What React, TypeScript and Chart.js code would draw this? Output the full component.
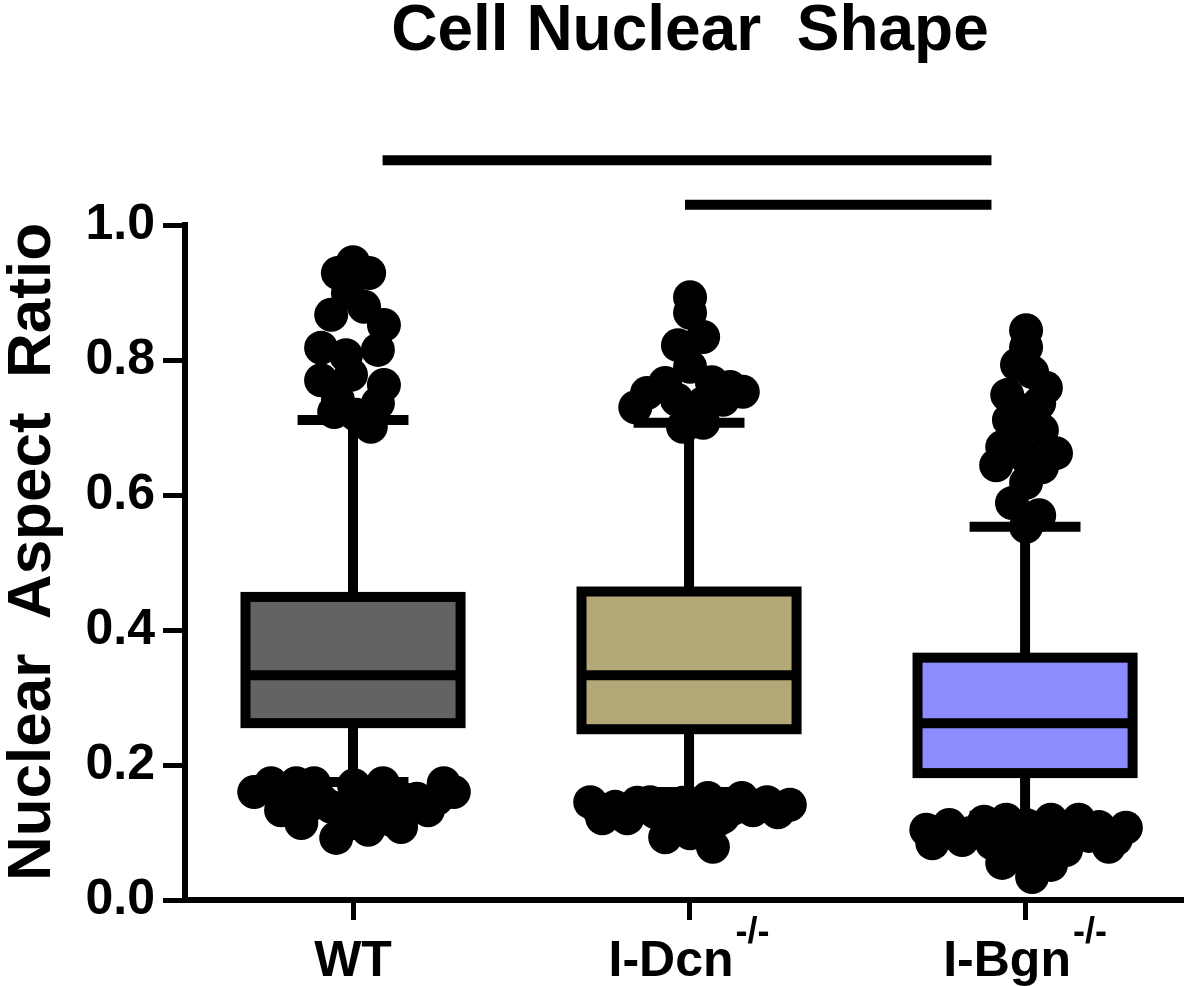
import React, { useEffect, useRef } from 'react';
import { Chart, registerables } from 'chart.js';

Chart.register(...registerables);

// ---------- data ----------
const categories = ['WT', 'I-Dcn', 'I-Bgn'];
const categorySuperscripts = ['', '-/-', '-/-'];
const boxFills = ['#636363', '#b4a879', '#8c8cff'];

const q1Values = [0.262, 0.253, 0.188];
const medianValues = [0.333, 0.333, 0.262];
const q3Values = [0.449, 0.457, 0.359];
const whiskerLowValues = [0.175, 0.16, 0.125];
const whiskerHighValues = [0.711, 0.707, 0.553];

const yTickValues = [0, 0.2, 0.4, 0.6, 0.8, 1.0];

// outliers: value and horizontal jitter (in category units) per group
const wtOutlierValues = [
  0.945, 0.929, 0.929, 0.899, 0.879, 0.867, 0.852, 0.818, 0.815, 0.807, 0.770, 0.763, 0.778, 0.741, 0.736, 0.723, 0.701, 0.719,
  0.160, 0.173, 0.173, 0.173, 0.133, 0.114, 0.092, 0.170, 0.173, 0.104, 0.108, 0.148, 0.133, 0.173, 0.160, 0.138, 0.129, 0.138, 0.148, 0.148, 0.111, 0.119,
  0.155, 0.140, 0.125, 0.150, 0.125, 0.150, 0.150, 0.150,
];
const wtOutlierJitter = [
  0, -0.045, 0.048, -0.015, 0.033, -0.065, 0.092, -0.095, 0.074, -0.021, -0.095, 0.092, -0.006, -0.045, 0.074, -0.056, 0.053, 0.009,
  -0.294, -0.244, -0.169, -0.116, -0.214, -0.154, -0.05, 0.003, 0.089, 0.045, 0.143, 0.163, 0.223, 0.27, 0.3, -0.065, 0.003, 0.104, -0.095, 0.053, -0.021, 0.113,
  -0.19, -0.13, -0.03, 0.02, 0.07, 0.12, 0.19, 0.25,
];

const dcnOutlierValues = [
  0.893, 0.870, 0.834, 0.822, 0.790, 0.766, 0.767, 0.753, 0.760, 0.751, 0.730, 0.741, 0.736, 0.701, 0.707, 0.741,
  0.145, 0.121, 0.138, 0.121, 0.144, 0.145, 0.138, 0.144, 0.151, 0.123, 0.151, 0.133, 0.145, 0.130, 0.141, 0.093, 0.099, 0.079, 0.123, 0.119,
  0.135, 0.130, 0.130, 0.120, 0.130, 0.135, 0.140, 0.120,
];
const dcnOutlierJitter = [
  0.003, 0.003, 0.042, -0.033, 0.003, -0.071, 0.068, 0.16, 0.122, -0.125, -0.16, -0.036, 0.042, -0.018, 0.042, 0.101,
  -0.294, -0.258, -0.22, -0.184, -0.154, -0.116, -0.065, -0.018, 0.056, 0.101, 0.157, 0.19, 0.232, 0.264, 0.3, -0.071, 0.003, 0.071, 0.024, -0.036,
  -0.27, -0.2, -0.1, -0.04, 0.04, 0.13, 0.21, 0.09,
];

const bgnOutlierValues = [
  0.844, 0.819, 0.793, 0.782, 0.759, 0.748, 0.736, 0.711, 0.696, 0.671, 0.662, 0.644, 0.656, 0.641, 0.618, 0.588, 0.570, 0.553, 0.692, 0.726,
  0.104, 0.084, 0.111, 0.089, 0.116, 0.119, 0.111, 0.119, 0.119, 0.108, 0.079, 0.107, 0.055, 0.034, 0.052, 0.074, 0.084, 0.084, 0.099, 0.099,
  0.100, 0.100, 0.095, 0.090, 0.100, 0.095, 0.090, 0.075, 0.065,
];
const bgnOutlierJitter = [
  0.003, 0.003, -0.024, 0.021, 0.062, -0.053, 0.042, -0.048, 0.05, -0.068, 0.092, -0.086, 0.003, 0.05, 0.003, -0.039, 0.042, 0.003, -0.018, 0.012,
  -0.294, -0.276, -0.226, -0.187, -0.122, -0.056, 0.003, 0.077, 0.16, 0.22, 0.249, 0.3, -0.068, 0.021, 0.077, 0.122, -0.098, -0.018, 0.131, -0.166,
  -0.25, -0.15, -0.09, 0.05, 0.1, 0.19, 0.27, 0.04, -0.04,
];

// significance bars (x in category units, level in y units)
const sigStarts = [0.088, 0.988];
const sigEnds = [1.9, 1.9];
const sigLevels = [1.096, 1.03];

const chartTitle = 'Cell Nuclear  Shape';
const yAxisTitle = 'Nuclear  Aspect  Ratio';

// ---------- styles ----------
const FONT = '"Liberation Sans", Arial, Helvetica, sans-serif';
const BOX_WIDTH = 0.64;
const CAP_WIDTH = 0.33;
const LINE_W = 10;

const outlierGroups = [
  { values: wtOutlierValues, jitter: wtOutlierJitter },
  { values: dcnOutlierValues, jitter: dcnOutlierJitter },
  { values: bgnOutlierValues, jitter: bgnOutlierJitter },
];

const boxPlugin = {
  id: 'boxes',
  beforeDatasetsDraw(chart: any) {
    const { ctx } = chart;
    const xs = chart.scales.x;
    const ys = chart.scales.y;
    ctx.save();
    ctx.strokeStyle = '#000';
    ctx.lineCap = 'butt';
    ctx.lineJoin = 'miter';
    categories.forEach((_, i) => {
      const cx = xs.getPixelForValue(i);
      const left = xs.getPixelForValue(i - BOX_WIDTH / 2);
      const right = xs.getPixelForValue(i + BOX_WIDTH / 2);
      const capL = xs.getPixelForValue(i - CAP_WIDTH / 2);
      const capR = xs.getPixelForValue(i + CAP_WIDTH / 2);
      const top = ys.getPixelForValue(q3Values[i]);
      const bot = ys.getPixelForValue(q1Values[i]);
      const med = ys.getPixelForValue(medianValues[i]);
      const wHi = ys.getPixelForValue(whiskerHighValues[i]);
      const wLo = ys.getPixelForValue(whiskerLowValues[i]);
      ctx.lineWidth = LINE_W;
      ctx.beginPath();
      ctx.moveTo(cx, top);
      ctx.lineTo(cx, wHi);
      ctx.moveTo(cx, bot);
      ctx.lineTo(cx, wLo);
      ctx.moveTo(capL, wHi);
      ctx.lineTo(capR, wHi);
      ctx.moveTo(capL, wLo);
      ctx.lineTo(capR, wLo);
      ctx.stroke();
      ctx.fillStyle = boxFills[i];
      ctx.fillRect(left, top, right - left, bot - top);
      ctx.strokeRect(left, top, right - left, bot - top);
      ctx.beginPath();
      ctx.moveTo(left, med);
      ctx.lineTo(right, med);
      ctx.stroke();
    });
    ctx.restore();
  },
  afterDraw(chart: any) {
    const { ctx } = chart;
    const xs = chart.scales.x;
    const ys = chart.scales.y;
    ctx.save();
    ctx.fillStyle = '#000';
    ctx.strokeStyle = '#000';
    // title
    ctx.font = `bold 64px ${FONT}`;
    ctx.textAlign = 'center';
    ctx.textBaseline = 'alphabetic';
    ctx.fillText(chartTitle, 690, 50);
    // y axis title
    ctx.save();
    ctx.translate(50, 552);
    ctx.rotate(-Math.PI / 2);
    ctx.font = `bold 62px ${FONT}`;
    ctx.textAlign = 'center';
    ctx.fillText(yAxisTitle, 0, 0);
    ctx.restore();
    // x labels with superscripts
    ctx.textAlign = 'left';
    categories.forEach((label, i) => {
      const cx = xs.getPixelForValue(i);
      ctx.font = `bold 50px ${FONT}`;
      const w1 = ctx.measureText(label).width;
      const sup = categorySuperscripts[i];
      let w2 = 0;
      if (sup) {
        ctx.font = `bold 36px ${FONT}`;
        w2 = ctx.measureText(sup).width + 2;
      }
      const start = cx - (w1 + w2) / 2;
      ctx.font = `bold 50px ${FONT}`;
      ctx.fillText(label, start, 976);
      if (sup) {
        ctx.font = `bold 36px ${FONT}`;
        ctx.fillText(sup, start + w1 + 2, 943);
      }
    });
    // significance bars
    ctx.lineWidth = LINE_W;
    ctx.lineCap = 'butt';
    sigLevels.forEach((lvl, k) => {
      const y = ys.getPixelForValue(lvl);
      ctx.beginPath();
      ctx.moveTo(xs.getPixelForValue(sigStarts[k]), y);
      ctx.lineTo(xs.getPixelForValue(sigEnds[k]), y);
      ctx.stroke();
    });
    ctx.restore();
  },
};

export default function App() {
  const canvasRef = useRef<HTMLCanvasElement | null>(null);

  useEffect(() => {
    if (!canvasRef.current) return;
    const points: { x: number; y: number }[] = [];
    outlierGroups.forEach((g, i) => {
      g.values.forEach((v, k) => points.push({ x: i + g.jitter[k], y: v }));
    });

    const chart = new Chart(canvasRef.current, {
      type: 'scatter',
      data: {
        datasets: [
          {
            label: 'Outliers',
            data: points,
            backgroundColor: '#000',
            borderWidth: 0,
            pointRadius: 17,
            pointHoverRadius: 17,
          },
        ],
      },
      options: {
        responsive: false,
        animation: false,
        events: [],
        layout: { padding: { top: 225, right: 15, bottom: 0, left: 0 } },
        plugins: {
          legend: { display: false },
          tooltip: { enabled: false },
          title: { display: false },
        },
        scales: {
          x: {
            type: 'linear',
            min: -0.5,
            max: 2.47,
            afterBuildTicks: (s: any) => {
              s.ticks = categories.map((_, i) => ({ value: i }));
            },
            afterFit: (s: any) => {
              s.height = 86;
            },
            ticks: { callback: () => '', padding: 0 },
            grid: {
              drawOnChartArea: false,
              drawTicks: true,
              tickLength: 20,
              tickWidth: 5,
              tickColor: '#000',
            },
            border: { display: true, color: '#000', width: 6 },
          },
          y: {
            type: 'linear',
            min: 0,
            max: 1,
            afterBuildTicks: (s: any) => {
              s.ticks = yTickValues.map((v) => ({ value: v }));
            },
            afterFit: (s: any) => {
              s.width = 185;
            },
            ticks: {
              callback: (v: any) => Number(v).toFixed(1),
              color: '#000',
              padding: 8,
              font: { family: FONT, size: 50, weight: 'bold' },
            },
            grid: {
              drawOnChartArea: false,
              drawTicks: true,
              tickLength: 22,
              tickWidth: 5,
              tickColor: '#000',
            },
            border: { display: true, color: '#000', width: 6 },
          },
        },
      },
      plugins: [boxPlugin],
    } as any);

    return () => chart.destroy();
  }, []);

  return (
    <div style={{ position: 'absolute', left: 0, top: 0, width: 1200, height: 986, background: '#fff' }}>
      <canvas ref={canvasRef} width={1200} height={986} style={{ display: 'block' }} />
    </div>
  );
}
